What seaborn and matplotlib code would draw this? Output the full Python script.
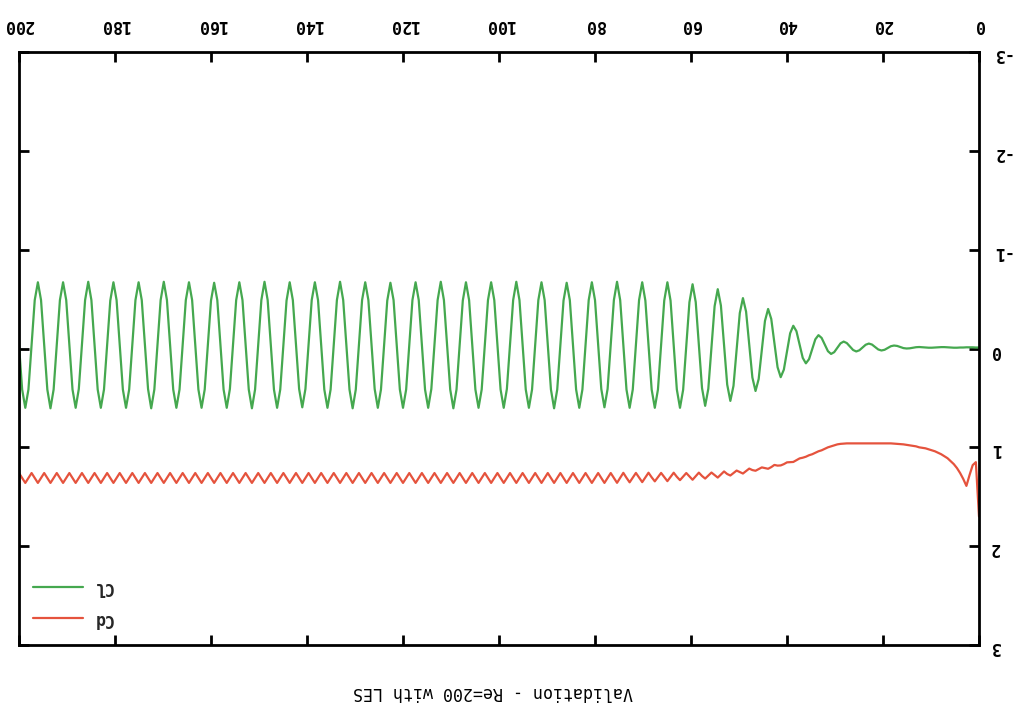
import numpy as np
import pandas as pd
import matplotlib
matplotlib.use("Agg")
import matplotlib.pyplot as plt
import seaborn as sns

# ---------------- data ----------------
TITLE = "Validation - Re=200 with LES"
X_TICKS = [0, 20, 40, 60, 80, 100, 120, 140, 160, 180, 200]
Y_TICKS = [-3, -2, -1, 0, 1, 2, 3]

# time samples (uniform grid 0..200)
time = np.linspace(0, 200, 306)

cl = [
    -0.010, -0.010, -0.012, -0.012, -0.012, -0.010, -0.010, -0.008, -0.008, -0.010,
    -0.012, -0.014, -0.014, -0.012, -0.010, -0.008, -0.008, -0.010, -0.013,
    -0.015, -0.013, -0.008, -0.002, 0.000, -0.004, -0.015, -0.026,
    -0.030, -0.023, -0.005, 0.013, 0.020, 0.010, -0.015, -0.040,
    -0.050, -0.038, -0.010, 0.018, 0.030, 0.015, -0.020, -0.055,
    -0.070, -0.052, -0.008, 0.037, 0.055, 0.027, -0.040, -0.107,
    -0.135, -0.093, 0.008, 0.108, 0.150, 0.095, -0.040, -0.175,
    -0.230, -0.154, 0.030, 0.214, 0.290, 0.189, -0.055, -0.299,
    -0.400, -0.279, 0.015, 0.309, 0.430, 0.293, -0.040, -0.373,
    -0.510, -0.358, 0.010, 0.378, 0.530, 0.365, -0.035, -0.435,
    -0.600, -0.428, -0.010, 0.408, 0.580, 0.400, -0.035, -0.470,
    -0.650, -0.468, -0.025, 0.418, 0.600, 0.415, -0.035, -0.485,
    -0.670, -0.485, -0.035, 0.415, 0.600, 0.415, -0.035, -0.485,
    -0.670, -0.490, -0.035, 0.415, 0.600, 0.415, -0.035, -0.490,
    -0.675, -0.490, -0.040, 0.410, 0.595, 0.410, -0.040, -0.490,
    -0.670, -0.490, -0.035, 0.415, 0.600, 0.415, -0.035, -0.490,
    -0.665, -0.485, -0.035, 0.415, 0.605, 0.415, -0.035, -0.490,
    -0.670, -0.490, -0.035, 0.415, 0.600, 0.415, -0.035, -0.490,
    -0.675, -0.490, -0.035, 0.410, 0.600, 0.415, -0.035, -0.490,
    -0.670, -0.490, -0.035, 0.415, 0.600, 0.415, -0.035, -0.490,
    -0.670, -0.485, -0.035, 0.415, 0.605, 0.415, -0.035, -0.490,
    -0.675, -0.490, -0.040, 0.410, 0.600, 0.415, -0.035, -0.490,
    -0.670, -0.490, -0.035, 0.415, 0.600, 0.415, -0.035, -0.490,
    -0.665, -0.485, -0.035, 0.415, 0.600, 0.410, -0.040, -0.490,
    -0.670, -0.490, -0.035, 0.415, 0.605, 0.415, -0.035, -0.490,
    -0.675, -0.490, -0.035, 0.415, 0.600, 0.415, -0.035, -0.490,
    -0.670, -0.490, -0.035, 0.410, 0.595, 0.410, -0.040, -0.490,
    -0.670, -0.485, -0.035, 0.415, 0.600, 0.415, -0.035, -0.490,
    -0.675, -0.490, -0.035, 0.415, 0.605, 0.415, -0.035, -0.490,
    -0.670, -0.490, -0.040, 0.410, 0.600, 0.415, -0.035, -0.490,
    -0.665, -0.485, -0.035, 0.415, 0.600, 0.415, -0.035, -0.490,
    -0.670, -0.490, -0.035, 0.415, 0.600, 0.415, -0.035, -0.490,
    -0.675, -0.490, -0.035, 0.415, 0.605, 0.410, -0.040, -0.490,
    -0.670, -0.490, -0.035, 0.415, 0.600, 0.415, -0.035, -0.490,
    -0.670, -0.485, -0.035, 0.415, 0.600, 0.415, -0.035, -0.490,
    -0.675, -0.490, -0.035, 0.410, 0.600, 0.415, -0.035, -0.490,
    -0.670, -0.490, -0.035, 0.415, 0.605, 0.415, -0.035, -0.490,
    -0.670, -0.490, -0.035, 0.415, 0.600, 0.415, -0.035,
]

cd = [
    1.70, 1.15, 1.18, 1.28, 1.39, 1.32, 1.26, 1.21, 1.17, 1.14,
    1.11, 1.09, 1.07, 1.055, 1.04, 1.03, 1.02, 1.01, 1.005, 1.00,
    0.99, 0.985, 0.98, 0.975, 0.97, 0.968, 0.965,
    0.962, 0.960, 0.960, 0.960, 0.960, 0.960, 0.960, 0.960,
    0.960, 0.960, 0.960, 0.960, 0.960, 0.960, 0.960, 0.960,
    0.962, 0.965, 0.970, 0.980, 0.990, 1.000, 1.015, 1.030,
    1.040, 1.055, 1.070, 1.080, 1.095,
    1.105, 1.112, 1.130, 1.148, 1.150, 1.152, 1.170, 1.183,
    1.185, 1.178, 1.200, 1.217, 1.210, 1.203, 1.220, 1.237,
    1.230, 1.215, 1.240, 1.265, 1.250, 1.235, 1.260, 1.285,
    1.270, 1.244, 1.275, 1.306, 1.280, 1.255, 1.285, 1.316,
    1.290, 1.256, 1.292, 1.328, 1.294, 1.260, 1.296, 1.332,
    1.298, 1.257, 1.300, 1.342, 1.300, 1.259, 1.302, 1.344,
    1.303, 1.257, 1.305, 1.352, 1.306, 1.259, 1.307, 1.354,
    1.308, 1.258, 1.309, 1.359,
    1.31, 1.26, 1.31, 1.36, 1.31, 1.26, 1.31, 1.36,
    1.31, 1.26, 1.31, 1.36, 1.31, 1.26, 1.31, 1.36,
    1.31, 1.26, 1.31, 1.36, 1.31, 1.26, 1.31, 1.36,
    1.31, 1.26, 1.31, 1.36, 1.31, 1.26, 1.31, 1.36,
    1.31, 1.26, 1.31, 1.36, 1.31, 1.26, 1.31, 1.36,
    1.31, 1.26, 1.31, 1.36, 1.31, 1.26, 1.31, 1.36,
    1.31, 1.26, 1.31, 1.36, 1.31, 1.26, 1.31, 1.36,
    1.31, 1.26, 1.31, 1.36, 1.31, 1.26, 1.31, 1.36,
    1.31, 1.26, 1.31, 1.36, 1.31, 1.26, 1.31, 1.36,
    1.31, 1.26, 1.31, 1.36, 1.31, 1.26, 1.31, 1.36,
    1.31, 1.26, 1.31, 1.36, 1.31, 1.26, 1.31, 1.36,
    1.31, 1.26, 1.31, 1.36, 1.31, 1.26, 1.31, 1.36,
    1.31, 1.26, 1.31, 1.36, 1.31, 1.26, 1.31, 1.36,
    1.31, 1.26, 1.31, 1.36, 1.31, 1.26, 1.31, 1.36,
    1.31, 1.26, 1.31, 1.36, 1.31, 1.26, 1.31, 1.36,
    1.31, 1.26, 1.31, 1.36, 1.31, 1.26, 1.31, 1.36,
    1.31, 1.26, 1.31, 1.36, 1.31, 1.26, 1.31, 1.36,
    1.31, 1.26, 1.31, 1.36, 1.31, 1.26, 1.31, 1.36,
    1.31, 1.26, 1.31, 1.36, 1.31, 1.26, 1.31, 1.36,
    1.31, 1.26, 1.31, 1.36, 1.31, 1.26, 1.31, 1.36,
    1.31, 1.26, 1.31, 1.36, 1.31, 1.26, 1.31, 1.36,
    1.31, 1.26, 1.31, 1.36, 1.31, 1.26, 1.31, 1.36,
    1.31, 1.26, 1.31, 1.36, 1.31, 1.26, 1.31, 1.36,
    1.31, 1.26, 1.31, 1.36,
    1.31, 1.26,
]

SERIES_NAMES = ["Cl", "Cd"]
SERIES_COLORS = ["#45a84f", "#e5533d"]

print(len(time), len(cl), len(cd))
n = min(len(time), len(cl), len(cd))
df = pd.DataFrame({"time": time[:n], "Cl": cl[:n], "Cd": cd[:n]})

# ---------------- style ----------------
sns.set_style("white")
plt.rcParams["font.family"] = ["DejaVu Sans Mono", "DejaVu Sans"]
plt.rcParams["axes.unicode_minus"] = False

fig = plt.figure(figsize=(10.13, 7.08), dpi=100)
ax = fig.add_axes([19 / 1013, 63 / 708, 960 / 1013, 593 / 708])

for name, col in zip(SERIES_NAMES, SERIES_COLORS):
    sns.lineplot(data=df, x="time", y=name, color=col, lw=1.6, ax=ax,
                 label=name, sort=False, estimator=None)

# chart is shown rotated by 180 degrees
ax.set_xlim(200, 0)
ax.set_ylim(3, -3)
ax.set_xticks(X_TICKS)
ax.set_yticks(Y_TICKS)
ax.set_xlabel("")
ax.set_ylabel("")

for sp in ax.spines.values():
    sp.set_visible(True)
    sp.set_color("black")
    sp.set_linewidth(2.0)

ax.tick_params(axis="both", direction="in", length=7, width=2, color="black",
               top=True, bottom=True, left=True, right=True,
               labeltop=True, labelbottom=False, labelleft=False, labelright=True,
               labelsize=12, labelcolor="black")
ax.tick_params(axis="x", pad=13, labelrotation=180)
ax.tick_params(axis="y", pad=8, labelrotation=180)
for lab in ax.get_xticklabels() + ax.get_yticklabels():
    lab.set_fontweight("bold")

leg = ax.legend(loc="lower left", bbox_to_anchor=(0.0146, 0.029), frameon=False,
                borderpad=0, borderaxespad=0, handlelength=3.0, handletextpad=0.6,
                labelspacing=0.8, prop={"family": "DejaVu Sans Mono", "size": 12,
                                        "weight": "bold"})
for txt in leg.get_texts():
    txt.set_rotation(180)
for line in leg.get_lines():
    line.set_linewidth(1.6)

fig.text(493 / 1013, 1 - 692 / 708, TITLE, rotation=180, ha="center", va="center",
         fontsize=12, family="DejaVu Sans Mono", color="black")

fig.savefig("out.png", dpi=100)
